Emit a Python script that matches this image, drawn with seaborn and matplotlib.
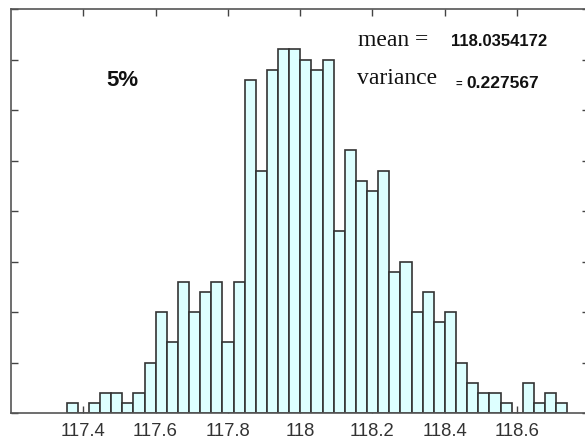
import numpy as np
import pandas as pd
import matplotlib
matplotlib.use("Agg")
import matplotlib.pyplot as plt
import seaborn as sns

# Histogram counts (45 bins)
counts = [1, 0, 1, 2, 2, 1, 2, 5, 10, 7, 13, 10, 12, 13, 7, 13, 33, 24, 34, 36,
          36, 35, 34, 35, 18, 26, 23, 22, 24, 14, 15, 10, 12, 9, 10, 5, 3, 2, 2, 1,
          0, 3, 1, 2, 1]
data_min = 117.354
data_max = 118.740
xtick_values = [117.4, 117.6, 117.8, 118.0, 118.2, 118.4, 118.6]
xtick_labels = ["117.4", "117.6", "117.8", "118", "118.2", "118.4", "118.6"]
ytick_values = [0, 5, 10, 15, 20, 25, 30, 35, 40]
mean_text = "118.0354172"
var_text = "0.227567"
pct_text = "5%"

nb = len(counts)
width = (data_max - data_min) / nb
centers = data_min + width * (np.arange(nb) + 0.5)
df = pd.DataFrame({"x": centers, "w": counts})

sns.set_theme(style="white")
plt.rcParams['font.family'] = ['Liberation Sans', 'DejaVu Sans']

fig = plt.figure(figsize=(5.85, 4.39), dpi=100)
ax = fig.add_axes([11/585, 1 - 414/439, (589 - 11)/585, (414 - 10)/439])

sns.histplot(data=df, x="x", weights="w", bins=nb, binrange=(data_min, data_max),
             color="#DDFFFF", edgecolor="#333333", linewidth=1.2, alpha=1.0, ax=ax)

ax.set_xlim(117.2, 118.8)
ax.set_ylim(0, 40)
ax.set_xticks(xtick_values)
ax.set_xticklabels(xtick_labels)
ax.set_yticks(ytick_values)
ax.set_yticklabels([])
ax.set_xlabel("")
ax.set_ylabel("")
ax.tick_params(axis="both", which="both", direction="in", length=5, width=1,
               color="#444444", top=True, right=True, bottom=True, left=True)
ax.tick_params(axis="x", labelsize=13.3, labelcolor="#333333", pad=6.3)
for s in ax.spines.values():
    s.set_visible(True)
    s.set_color("#555555")
    s.set_linewidth(1.2)

serif = ["Liberation Serif", "DejaVu Serif"]
sans = ["Liberation Sans", "DejaVu Sans"]
ax.text(122.5/585, 1 - 80/439, pct_text, transform=fig.transFigure, fontsize=16,
        fontweight="bold", color="#111111", va="center", ha="center", family=sans)
ax.text(358/585, 1 - 40/439, "mean =", transform=fig.transFigure,
        fontsize=17, family=serif, color="#111111", va="center", ha="left")
ax.text(357/585, 1 - 79/439, "variance", transform=fig.transFigure,
        fontsize=17, family=serif, color="#111111", va="center", ha="left")
ax.text(451/585, 1 - 41.5/439, mean_text, transform=fig.transFigure,
        fontsize=12, fontweight="bold", family=sans,
        color="#111111", va="center", ha="left")
ax.text(456/585, 1 - 84/439, "=", transform=fig.transFigure,
        fontsize=8, fontweight="bold", family=sans,
        color="#111111", va="center", ha="left")
ax.text(466/585, 1 - 84/439, var_text, transform=fig.transFigure,
        fontsize=12.5, fontweight="bold", family=sans,
        color="#111111", va="center", ha="left")

fig.savefig("out.png", dpi=100)
